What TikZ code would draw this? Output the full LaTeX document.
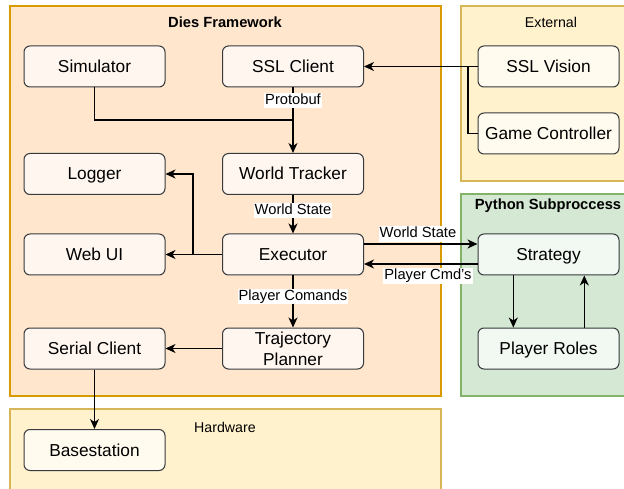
\documentclass[tikz,border=0pt]{standalone}
\usepackage{fontspec}
\setmainfont{Liberation Sans}
\usetikzlibrary{arrows.meta}
\definecolor{orfill}{HTML}{FFE6CC}
\definecolor{ordraw}{HTML}{D79B00}
\definecolor{yfill}{HTML}{FFF2CC}
\definecolor{ydraw}{HTML}{D6B656}
\definecolor{gfill}{HTML}{D5E8D4}
\definecolor{gdraw}{HTML}{82B366}
\definecolor{nbord}{HTML}{36393D}
\tikzset{
  box/.style={draw=nbord, fill=white, fill opacity=0.7, text opacity=1, rounded corners=6pt,
    minimum width=141pt, minimum height=41pt, line width=1pt, inner sep=0pt, align=center,
    font=\fontsize{17.3}{21}\selectfont},
  onel/.style={text height=12.6pt, text depth=0.6pt},
  cont/.style={line width=1.2pt},
  conn/.style={line width=1.3pt, draw=black},
  arr/.style={conn, -{Stealth[length=10pt, width=9pt, inset=3pt]}},
  lbl/.style={fill=white, inner sep=1pt, text height=10.5pt, text depth=3pt,
    font=\fontsize{14.7}{17}\selectfont},
  ttl/.style={font=\bfseries\fontsize{14.7}{17}\selectfont},
  ttln/.style={font=\fontsize{14.2}{17}\selectfont}
}
\begin{document}
\begin{tikzpicture}[x=1pt,y=-1pt]
\useasboundingbox (0,0) rectangle (624,489);
\clip (0,0) rectangle (624,489);
% containers
\draw[cont, fill=orfill, draw=ordraw] (10,6) rectangle (441,396);
\draw[cont, fill=yfill, draw=ydraw] (461,6) rectangle (640,181);
\draw[cont, fill=gfill, draw=gdraw] (461,194) rectangle (640,396);
\draw[cont, fill=yfill, draw=ydraw] (10,409) rectangle (441,500);
\node[ttl] (tdies) at (225,22) {Dies Framework};
\node[ttln] (text) at (551,22) {External};
\node[ttl] (tpy) at (548,206) {Python Subproccess};
\node[ttln] (thw) at (225,427) {Hardware};
% nodes
\node[box, onel] (sim) at (94.5,66.5) {Simulator};
\node[box, onel] (sslc) at (293,66.5) {SSL Client};
\node[box, onel] (logger) at (94.5,174) {Logger};
\node[box, onel] (wt) at (293,174) {World Tracker};
\node[box, onel] (webui) at (94.5,254.5) {Web UI};
\node[box, onel] (exec) at (293,254.5) {Executor};
\node[box, onel] (serial) at (94.5,348.5) {Serial Client};
\node[box] (traj) at (293,348.5) {Trajectory\\Planner};
\node[box, onel] (base) at (94.5,450) {Basestation};
\node[box, onel] (vision) at (548.5,66.5) {SSL Vision};
\node[box, onel] (game) at (548.5,133.5) {Game Controller};
\node[box, onel] (strat) at (548.5,254.5) {Strategy};
\node[box, onel] (roles) at (548.5,348.5) {Player Roles};
% junction coordinates
\coordinate (jgc) at (468,66.5);
\coordinate (jsim) at (293,120);
\coordinate (jlog) at (193,254.5);
% connectors
\draw[arr] (vision.west) -- (sslc.east);
\draw[conn] (game.west) -| (jgc);
\draw[conn] (sim.south) |- (jsim);
\draw[arr] (sslc.south) -- node[lbl, pos=0.2] {Protobuf} (wt.north);
\draw[arr] (wt.south) -- node[lbl, pos=0.4] {World State} (exec.north);
\draw[arr] (exec.west) -- (webui.east);
\draw[arr] (jlog) |- (logger.east);
\draw[arr] (exec.south) -- node[lbl, pos=0.4] {Player Comands} (traj.north);
\draw[arr] (traj.west) -- (serial.east);
\draw[arr] (serial.south) -- (base.north);
\draw[arr] ([yshift=10.5pt]exec.east) -- ([yshift=10.5pt]strat.west);
\draw[arr] ([yshift=-9.5pt]strat.west) -- ([yshift=-9.5pt]exec.east);
\node[lbl] (lws) at (418,234) {World State};
\node[lbl] (lpc) at (428,276) {Player Cmd's};
\draw[arr] ([xshift=-35.2pt]strat.south) -- ([xshift=-35.2pt]roles.north);
\draw[arr] ([xshift=35.8pt]roles.north) -- ([xshift=35.8pt]strat.south);
\end{tikzpicture}
\end{document}
